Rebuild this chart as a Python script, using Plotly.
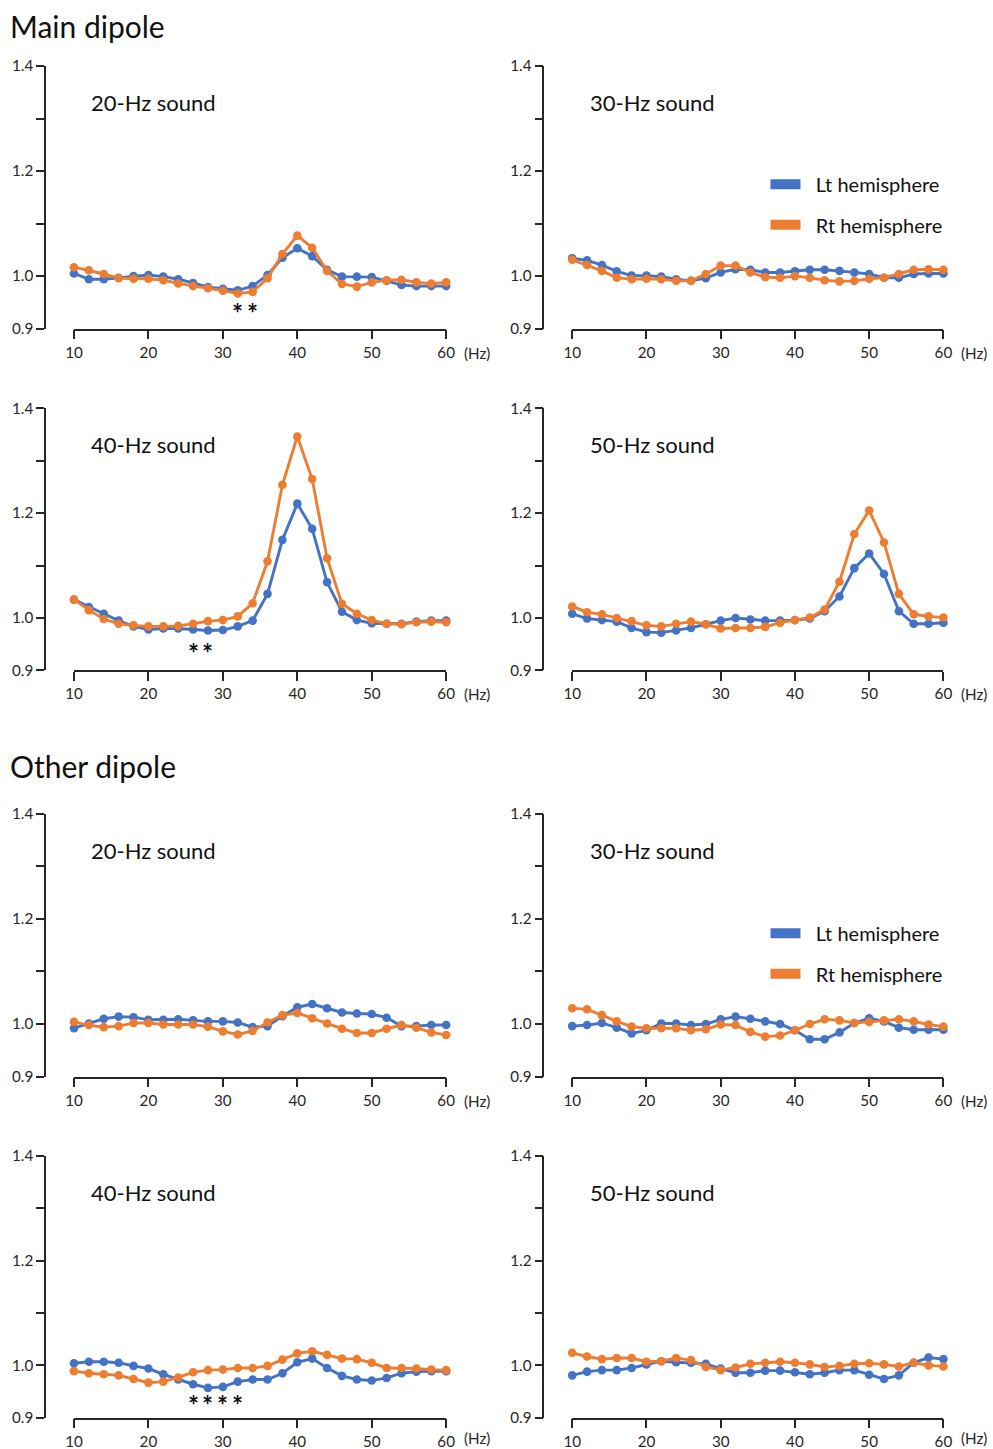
import plotly.graph_objects as go

# ---------------- data ----------------
freqs = list(range(10, 61, 2))
x_ticks = [10, 20, 30, 40, 50, 60]
y_ticks = [0.9, 1.0, 1.1, 1.2, 1.3, 1.4]
y_ticktext = ["0.9", "1.0", "", "1.2", "", "1.4"]

section_titles = ["Main dipole", "Other dipole"]
panel_titles = ["20-Hz sound", "30-Hz sound", "40-Hz sound", "50-Hz sound",
                "20-Hz sound", "30-Hz sound", "40-Hz sound", "50-Hz sound"]
series_names = ["Lt hemisphere", "Rt hemisphere"]

main20_lt = [1.005, 0.994, 0.994, 0.997, 1.000, 1.002, 0.999, 0.994, 0.987, 0.979, 0.976, 0.973, 0.981,
             1.002, 1.035, 1.053, 1.038, 1.012, 0.999, 0.999, 0.998, 0.991, 0.983, 0.981, 0.981, 0.981]
main20_rt = [1.017, 1.011, 1.004, 0.996, 0.995, 0.995, 0.992, 0.986, 0.981, 0.977, 0.972, 0.967, 0.970,
             0.996, 1.042, 1.077, 1.054, 1.010, 0.985, 0.980, 0.988, 0.992, 0.993, 0.988, 0.986, 0.988]
main30_lt = [1.034, 1.030, 1.021, 1.009, 1.001, 1.001, 0.999, 0.994, 0.991, 0.996, 1.007, 1.013, 1.012,
             1.007, 1.007, 1.009, 1.012, 1.012, 1.010, 1.007, 1.004, 0.997, 0.997, 1.004, 1.005, 1.005]
main30_rt = [1.031, 1.021, 1.010, 0.997, 0.994, 0.995, 0.994, 0.991, 0.991, 1.004, 1.020, 1.020, 1.007,
             0.998, 0.997, 1.000, 0.997, 0.992, 0.990, 0.991, 0.995, 0.997, 1.004, 1.012, 1.013, 1.012]
main40_lt = [1.035, 1.021, 1.008, 0.995, 0.984, 0.978, 0.980, 0.980, 0.978, 0.976, 0.977, 0.984, 0.995,
             1.046, 1.149, 1.218, 1.170, 1.068, 1.012, 0.996, 0.990, 0.989, 0.989, 0.993, 0.995, 0.995]
main40_rt = [1.035, 1.015, 0.998, 0.989, 0.986, 0.984, 0.984, 0.985, 0.989, 0.994, 0.996, 1.003, 1.028,
             1.108, 1.254, 1.346, 1.265, 1.114, 1.027, 1.008, 0.996, 0.989, 0.988, 0.992, 0.993, 0.992]
main50_lt = [1.008, 0.999, 0.996, 0.993, 0.981, 0.973, 0.972, 0.976, 0.981, 0.988, 0.995, 1.000, 0.997,
             0.995, 0.995, 0.996, 0.999, 1.013, 1.041, 1.095, 1.123, 1.084, 1.013, 0.989, 0.989, 0.991]
main50_rt = [1.022, 1.011, 1.007, 1.000, 0.994, 0.986, 0.984, 0.989, 0.993, 0.988, 0.980, 0.981, 0.981,
             0.983, 0.991, 0.996, 1.001, 1.016, 1.069, 1.160, 1.205, 1.144, 1.046, 1.007, 1.003, 1.001]

other20_lt = [0.992, 1.001, 1.010, 1.014, 1.013, 1.008, 1.008, 1.009, 1.007, 1.005, 1.005, 1.003, 0.994,
              0.996, 1.015, 1.032, 1.038, 1.030, 1.022, 1.020, 1.019, 1.012, 0.996, 0.996, 0.998, 0.998]
other20_rt = [1.004, 0.998, 0.994, 0.996, 1.002, 1.002, 0.999, 0.999, 0.999, 0.995, 0.986, 0.980, 0.987,
              1.003, 1.017, 1.021, 1.011, 1.001, 0.991, 0.983, 0.983, 0.991, 0.998, 0.993, 0.984, 0.979]
other30_lt = [0.996, 0.998, 1.002, 0.993, 0.982, 0.988, 1.001, 1.001, 0.998, 1.000, 1.009, 1.014, 1.010,
              1.005, 1.000, 0.988, 0.971, 0.971, 0.984, 1.002, 1.011, 1.005, 0.993, 0.989, 0.989, 0.989]
other30_rt = [1.030, 1.028, 1.017, 1.005, 0.995, 0.992, 0.992, 0.992, 0.988, 0.990, 0.999, 0.998, 0.985,
              0.976, 0.978, 0.988, 1.000, 1.009, 1.007, 1.002, 1.004, 1.007, 1.009, 1.005, 0.999, 0.995]
other40_lt = [1.004, 1.007, 1.007, 1.005, 0.999, 0.994, 0.983, 0.973, 0.964, 0.957, 0.959, 0.969, 0.973,
              0.973, 0.985, 1.006, 1.013, 0.995, 0.980, 0.973, 0.971, 0.976, 0.985, 0.988, 0.989, 0.989]
other40_rt = [0.989, 0.985, 0.983, 0.981, 0.974, 0.967, 0.969, 0.977, 0.987, 0.991, 0.992, 0.995, 0.995,
              0.999, 1.011, 1.023, 1.027, 1.020, 1.013, 1.012, 1.005, 0.995, 0.995, 0.994, 0.992, 0.991]
other50_lt = [0.981, 0.988, 0.991, 0.991, 0.995, 1.002, 1.008, 1.006, 1.005, 1.003, 0.994, 0.986, 0.986,
              0.990, 0.990, 0.987, 0.983, 0.986, 0.991, 0.991, 0.982, 0.974, 0.981, 1.005, 1.015, 1.012]
other50_rt = [1.024, 1.017, 1.012, 1.014, 1.014, 1.007, 1.008, 1.014, 1.010, 0.997, 0.991, 0.996, 1.003,
              1.005, 1.007, 1.005, 1.002, 0.997, 0.999, 1.003, 1.004, 1.002, 0.998, 1.005, 1.000, 0.998]

lt_series = [main20_lt, main30_lt, main40_lt, main50_lt, other20_lt, other30_lt, other40_lt, other50_lt]
rt_series = [main20_rt, main30_rt, main40_rt, main50_rt, other20_rt, other30_rt, other40_rt, other50_rt]

# significance markers (frequency positions) and their level per panel
sig_freqs = [[32, 34], [], [26, 28], [], [], [], [26, 28, 30, 32], []]
sig_levels = [0.930, None, 0.934, None, None, None, 0.924, None]

# ---------------- style / layout ----------------
# The page is captured with an 8px body margin and then fitted to the window,
# so target pixel positions are converted into figure coordinates.
OFF = 8
SX, SY = 993 / 1009, 1449 / 1465
W, H = 1001, 1457
BLUE = "#4472C4"
ORANGE = "#ED7D31"
AXIS = "#262626"
FONT = "Lato"


def px(xp):
    return (xp / SX - OFF) / W


def py(yp):
    return 1 - (yp / SY - OFF) / H


col_px = [(73, 446, 44), (572.3, 944.3, 543.3)]
row_px = [(64, 327), (406.7, 669.3), (813, 1076), (1155.5, 1417.7)]
hz_drop = [24, 24, 24, 20]

fig = go.Figure()
layout = dict(
    width=W, height=H, margin=dict(l=0, r=0, t=0, b=0),
    paper_bgcolor="white", plot_bgcolor="white",
    font=dict(family=FONT, color=AXIS),
    showlegend=True,
)
annotations = []

for i in range(8):
    r, c = divmod(i, 2)
    x0, x1, ypos = col_px[c]
    t, b = row_px[r]
    sfx = "" if i == 0 else str(i + 1)
    xa, ya = "x" + sfx, "y" + sfx
    layout["xaxis" + sfx] = dict(
        domain=[px(x0), px(x1)], anchor=ya, range=[10, 60],
        tickvals=x_ticks, ticks="outside", ticklen=9, tickwidth=1.5, tickcolor=AXIS,
        showline=True, linecolor=AXIS, linewidth=1.5, showgrid=False, zeroline=False,
        tickfont=dict(family=FONT, size=15.2, color=AXIS), fixedrange=True,
    )
    layout["yaxis" + sfx] = dict(
        domain=[py(b), py(t)], anchor="free", position=px(ypos), range=[0.9, 1.4],
        tickvals=y_ticks, ticktext=y_ticktext, ticks="outside", ticklen=8, tickwidth=1.5,
        tickcolor=AXIS, showline=True, linecolor=AXIS, linewidth=1.5, showgrid=False,
        zeroline=False, tickfont=dict(family=FONT, size=15.2, color=AXIS), fixedrange=True,
    )
    for name, ys, col in ((series_names[0], lt_series[i], BLUE), (series_names[1], rt_series[i], ORANGE)):
        fig.add_trace(go.Scatter(
            x=freqs, y=ys, xaxis=xa, yaxis=ya, mode="lines+markers", name=name,
            line=dict(color=col, width=2.9), marker=dict(color=col, size=8.6),
            cliponaxis=False, showlegend=False, hoverinfo="x+y+name",
        ))
    annotations.append(dict(
        text=panel_titles[i], xref=xa + " domain", yref=ya + " domain",
        x=(88.5 - 73) / 373, y=(327 - 100.5) / 263, xanchor="left", yanchor="middle",
        showarrow=False, font=dict(family=FONT, size=22, color="#111"),
    ))
    annotations.append(dict(
        text="(Hz)", xref=xa + " domain", yref=ya + " domain",
        x=(477 - 73) / 373, y=-hz_drop[r] / 263, xanchor="center", yanchor="middle",
        showarrow=False, font=dict(family=FONT, size=15.2, color=AXIS),
    ))
    for f in sig_freqs[i]:
        annotations.append(dict(
            text="<b>*</b>", xref=xa, yref=ya, x=f, y=sig_levels[i], xanchor="center", yanchor="middle",
            showarrow=False, font=dict(family=FONT, size=26, color="#111"),
        ))

# section titles
for txt, yp in zip(section_titles, [24, 765]):
    annotations.append(dict(
        text=txt, xref="paper", yref="paper", x=px(7), y=py(yp),
        xanchor="left", yanchor="middle", showarrow=False,
        font=dict(family=FONT, size=30, color="#111"),
    ))

# legends (one in each "30-Hz sound" panel)
for lg, top in (("legend", 163), ("legend2", 913)):
    for k, (name, col) in enumerate(zip(series_names, [BLUE, ORANGE])):
        fig.add_trace(go.Scatter(
            x=[None], y=[None], mode="lines", name="\u00a0\u00a0" + name,
            line=dict(color=col, width=16), legend=lg, legendgroup=lg + str(k),
            showlegend=True, hoverinfo="skip", xaxis="x2", yaxis="y2",
        ))
    layout[lg] = dict(
        x=px(766), y=py(top), xanchor="left", yanchor="top",
        bgcolor="rgba(0,0,0,0)", borderwidth=0, tracegroupgap=11.5,
        font=dict(family=FONT, size=20, color="#111"),
    )

layout["annotations"] = annotations
fig.update_layout(**layout)
fig.write_html("out.html")
